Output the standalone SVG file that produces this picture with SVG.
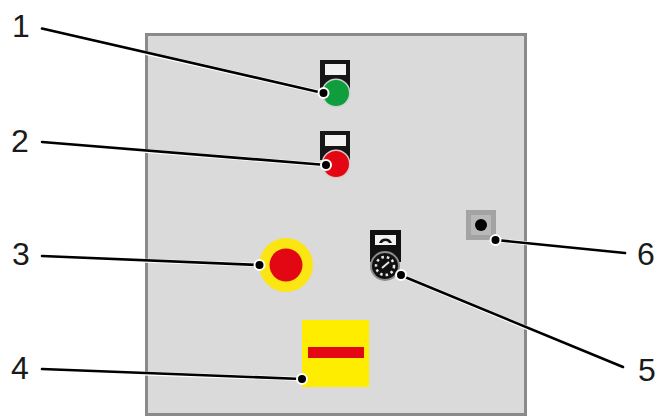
<svg xmlns="http://www.w3.org/2000/svg" width="658" height="417" viewBox="0 0 658 417">
<style>
.n{font-family:"Liberation Sans",Arial,sans-serif;font-size:32px;fill:#1a1a1a;text-anchor:middle}
.halo{stroke:#fff;stroke-width:4;fill:none}
.l{stroke:#000;stroke-width:2.6;fill:none;stroke-linecap:round}
.dh{fill:#000;stroke:#fff;stroke-width:2}
.wh{fill:#f2f2f2}
</style>
<rect x="0" y="0" width="658" height="417" fill="#fff"/>
<rect id="panel" x="146.500" y="34.500" width="379" height="380" fill="#dadada" stroke="#8a8a8a" stroke-width="3"/>
<g id="node-1">
<path d="M320 60H350V90H320Z" fill="#161616"/>
<rect x="325" y="64" width="21" height="11" class="wh"/>
<circle cx="336" cy="93" r="14.500" fill="#c9d3cc"/>
<circle cx="336" cy="93" r="13" fill="#0f9d3e"/>
</g>
<g id="node-2">
<path d="M320 131H350V160H320Z" fill="#161616"/>
<rect x="325" y="135" width="21" height="11" class="wh"/>
<circle cx="336" cy="164" r="14.500" fill="#d9c9c9"/>
<circle cx="336" cy="164" r="13" fill="#e30613"/>
</g>
<g id="node-3">
<circle cx="286" cy="265" r="27" fill="#fbe614"/>
<circle cx="286" cy="265" r="16.500" fill="#e30613"/>
</g>
<g id="node-4">
<rect x="302" y="320" width="67" height="67" fill="#ffed00"/>
<rect x="308" y="347" width="56" height="11" fill="#e30613"/>
</g>
<g id="node-5">
<path d="M370 230H401V262H370Z" fill="#111"/>
<rect x="375" y="235" width="21" height="10" fill="#f2f2f2"/>
<path d="M379 243a7 7 0 0 1 13 0l-3 0a4 4 0 0 0 -7 0z" fill="#111"/>
<circle cx="385" cy="266" r="15" fill="#8c8c8c"/>
<circle cx="385" cy="266" r="13" fill="#111"/>
<circle cx="385" cy="266" r="9" fill="none" stroke="#e8e8e8" stroke-width="2.500" stroke-dasharray="2.500 3"/>
<path d="M382 268L389 262" stroke="#e8e8e8" stroke-width="2"/>
</g>
<g id="node-6">
<rect x="466" y="210" width="30" height="30" fill="#a3a3a3"/>
<rect x="471" y="215" width="20" height="20" fill="#b8b8b8"/>
<circle cx="481" cy="225" r="6" fill="#000"/>
</g>
<g id="connectors">
<path class="halo" d="M42 29.500L323 93"/>
<path class="halo" d="M42 143L326 165"/>
<path class="halo" d="M42 257L260 265"/>
<path class="halo" d="M42 370L302 379"/>
<path class="halo" d="M400 275L623 368"/>
<path class="halo" d="M496 240L625 254"/>
<path class="l" d="M42 28.500L323 93"/>
<path class="l" d="M42 142L326 165"/>
<path class="l" d="M42 256L260 265"/>
<path class="l" d="M42 369L302 379"/>
<path class="l" d="M400 275L623 367"/>
<path class="l" d="M496 240L625 253"/>
<circle class="dh" cx="323.500" cy="93" r="5"/>
<circle class="dh" cx="326" cy="165" r="5"/>
<circle class="dh" cx="259.500" cy="265" r="5"/>
<circle class="dh" cx="302" cy="379" r="5"/>
<circle class="dh" cx="401" cy="275" r="5"/>
<circle class="dh" cx="495.500" cy="240" r="5"/>
</g>
<text class="n" x="21" y="37">1</text>
<text class="n" x="20" y="152">2</text>
<text class="n" x="21" y="265">3</text>
<text class="n" x="20" y="379">4</text>
<text class="n" x="647" y="381">5</text>
<text class="n" x="646" y="265">6</text>
</svg>
